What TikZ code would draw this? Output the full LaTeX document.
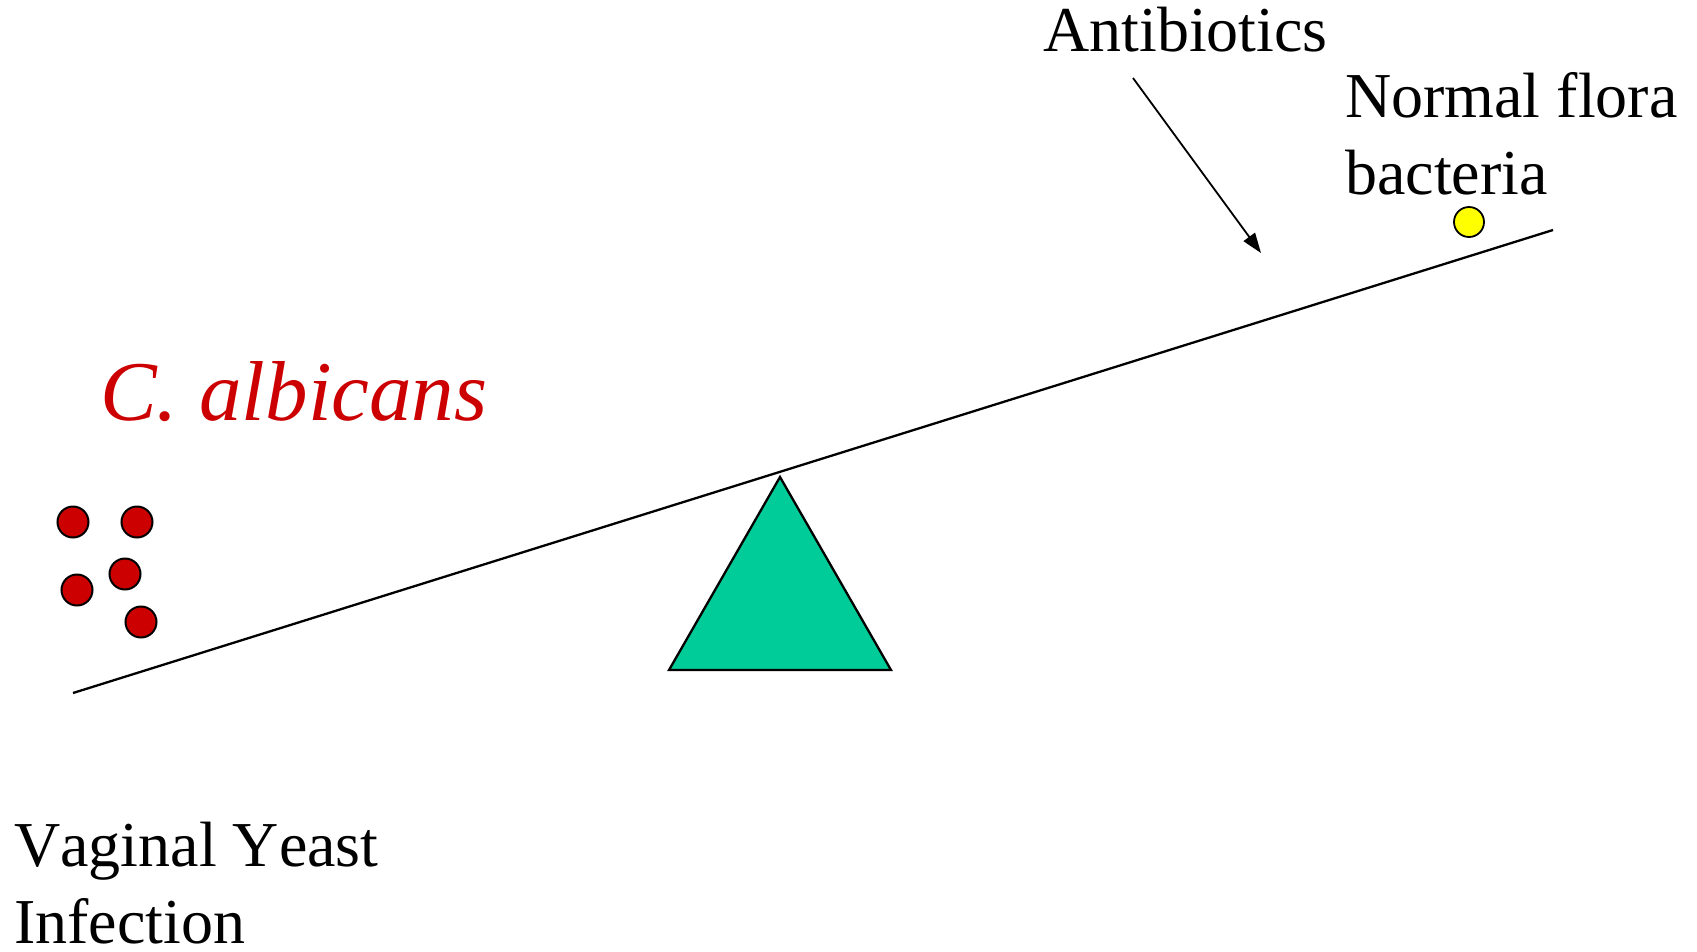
\documentclass[tikz,border=0pt]{standalone}
\usepackage{fontspec}
\setmainfont{Liberation Serif}[Kerning=Off]
\usetikzlibrary{arrows.meta}
\definecolor{candred}{RGB}{204,0,0}
\definecolor{fulcrumgreen}{RGB}{0,204,153}
\definecolor{florayellow}{RGB}{255,255,0}
\tikzset{
  lbl/.style={anchor=base west, inner sep=0pt, align=left, font=\fontsize{64}{77}\selectfont},
  yeast/.style={circle, draw=black, line width=2pt, fill=candred, minimum size=31pt, inner sep=0pt},
  bact/.style={circle, draw=black, line width=1.8pt, fill=florayellow, minimum size=30pt, inner sep=0pt},
  lever/.style={draw=black, line width=2.3pt},
  fulcrum/.style={draw=black, line width=2.3pt, fill=fulcrumgreen, line join=miter},
  pointer/.style={draw=black, line width=1.8pt, -{Triangle[length=20pt,width=14pt]}}
}
\begin{document}
\begin{tikzpicture}[x=1pt,y=-1pt]
\useasboundingbox (0,0) rectangle (1697,951);
% lever and fulcrum
\coordinate (levL) at (73,693);
\coordinate (levR) at (1553,230);
\draw[lever] (levL) -- (levR);
\coordinate (apex) at (780,477);
\coordinate (baseL) at (669,670);
\coordinate (baseR) at (891,670);
\draw[fulcrum] (apex) -- (baseL) -- (baseR) -- cycle;
% yeast cells
\node[yeast] (y1) at (73,522) {};
\node[yeast] (y2) at (137,522) {};
\node[yeast] (y3) at (77,590) {};
\node[yeast] (y4) at (125,574) {};
\node[yeast] (y5) at (141,622) {};
% bacterium
\node[bact] (b1) at (1469,222) {};
% labels (base anchor = baseline of the last line)
\node[lbl] (antib) at (1043,51) {Antibiotics};
\node[lbl] (flora) at (1345,194) {Normal flora\\bacteria};
\node[lbl, text=candred, font=\fontsize{85}{100}\selectfont\itshape] (calb) at (100,420) {C. albicans};
\node[lbl] (vyi) at (14,943) {Vaginal Yeast\\Infection};
% antibiotics arrow
\coordinate (arrS) at (1133,78);
\coordinate (arrE) at (1261,253);
\draw[pointer] (arrS) -- (arrE);
\end{tikzpicture}
\end{document}
